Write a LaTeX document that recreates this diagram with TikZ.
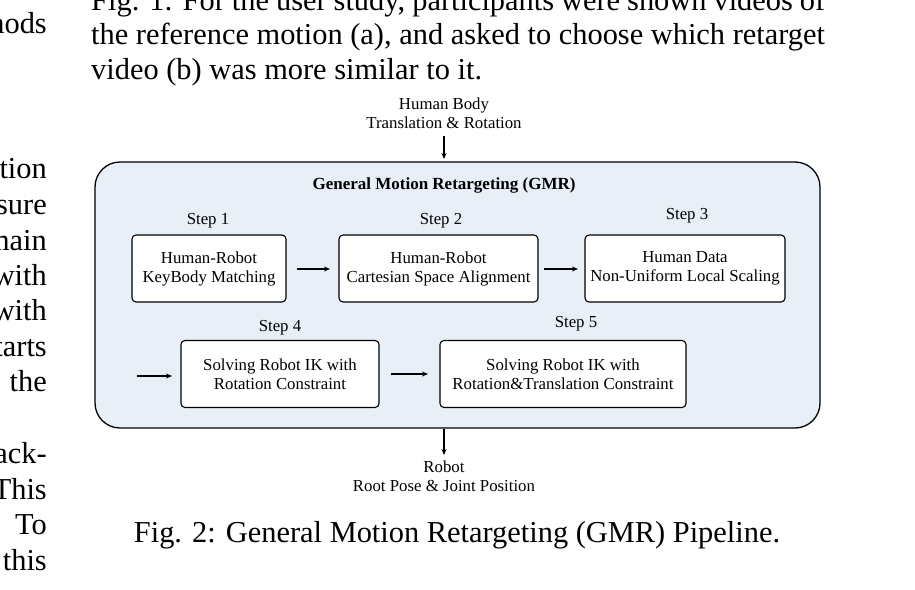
\documentclass[tikz,border=0pt]{standalone}
\usepackage{fontspec}
\setmainfont{Liberation Serif}
\usetikzlibrary{arrows.meta}
\definecolor{panel}{HTML}{E8EFF6}
\begin{document}
\begin{tikzpicture}[x=1pt,y=-1pt,
  box/.style={draw,line width=1.1pt,rounded corners=4pt,fill=white,minimum height=67pt,align=center,font=\fontsize{16.8}{19}\selectfont,inner sep=1pt},
  lbl/.style={font=\fontsize{16.8}{19}\selectfont},
  arr/.style={-{Stealth[length=6pt,width=5pt]},line width=1.2pt},
  para/.style={font=\fontsize{30.4}{36}\selectfont,anchor=base west,inner sep=0pt},
  lcol/.style={font=\fontsize{30.4}{36}\selectfont,anchor=base east,inner sep=0pt}]
\useasboundingbox (0,0) rectangle (915,589);
% paper text
\node[para,text width=734pt,align=justify] (p1) at (91,10) {Fig. 1: For the user study, participants were shown videos of\hfill\null};
\node[para,text width=734pt,align=justify] (p2) at (91,44) {the reference motion (a), and asked to choose which retarget\hfill\null};
\node[para] (p3) at (91,79) {video (b) was more similar to it.};
\foreach \t/\y [count=\i] in {nods/33,tion/178,sure/214,main/250,with/285,with/320,tarts/356,the/391,ack-/463,This/499,To/534,this/570}
  \node[lcol] (l\i) at (47,\y) {\t};
\node[font=\fontsize{30.4}{34}\selectfont,anchor=base] (cap) at (457,542) {Fig. 2: General Motion Retargeting (GMR) Pipeline.};
% panel
\node[draw,line width=1.3pt,rounded corners=25pt,fill=panel,minimum width=725pt,minimum height=266pt] (panel) at (457.5,295) {};
\node[font=\fontsize{17}{19}\selectfont\bfseries] (title) at (444,185) {General Motion Retargeting (GMR)};
\node[box,minimum width=154pt] (s1) at (209,268.5) {Human-Robot\\KeyBody Matching};
\node[box,minimum width=199pt] (s2) at (438.5,268.5) {Human-Robot\\Cartesian Space Alignment};
\node[box,minimum width=200pt] (s3) at (685,268.5) {Human Data\\Non-Uniform Local Scaling};
\node[box,minimum width=198pt] (s4) at (280,374) {Solving Robot IK with\\Rotation Constraint};
\node[box,minimum width=246pt] (s5) at (563,374) {Solving Robot IK with\\Rotation\&Translation Constraint};
\node[lbl] (t1) at (208,221) {Step 1};
\node[lbl] (t2) at (441,221) {Step 2};
\node[lbl] (t3) at (687,216) {Step 3};
\node[lbl] (t4) at (280,328) {Step 4};
\node[lbl] (t5) at (576,324) {Step 5};
\coordinate (a1) at (297,269); \coordinate (b1) at (330,269);
\coordinate (a2) at (544,269); \coordinate (b2) at (578,269);
\coordinate (a3) at (137,376); \coordinate (b3) at (172,376);
\coordinate (a4) at (391,374); \coordinate (b4) at (428,374);
\draw[arr] (a1) -- (b1);
\draw[arr] (a2) -- (b2);
\draw[arr] (a3) -- (b3);
\draw[arr] (a4) -- (b4);
\node[lbl,align=center] (in) at (444,113) {Human Body\\Translation \& Rotation};
\node[lbl,align=center] (out) at (444,476) {Robot\\Root Pose \& Joint Position};
\coordinate (ti) at (444,136); \coordinate (to) at (444,159);
\coordinate (bi) at (444,429); \coordinate (bo) at (444,455);
\draw[arr] (ti) -- (to);
\draw[arr] (bi) -- (bo);
\end{tikzpicture}
\end{document}
